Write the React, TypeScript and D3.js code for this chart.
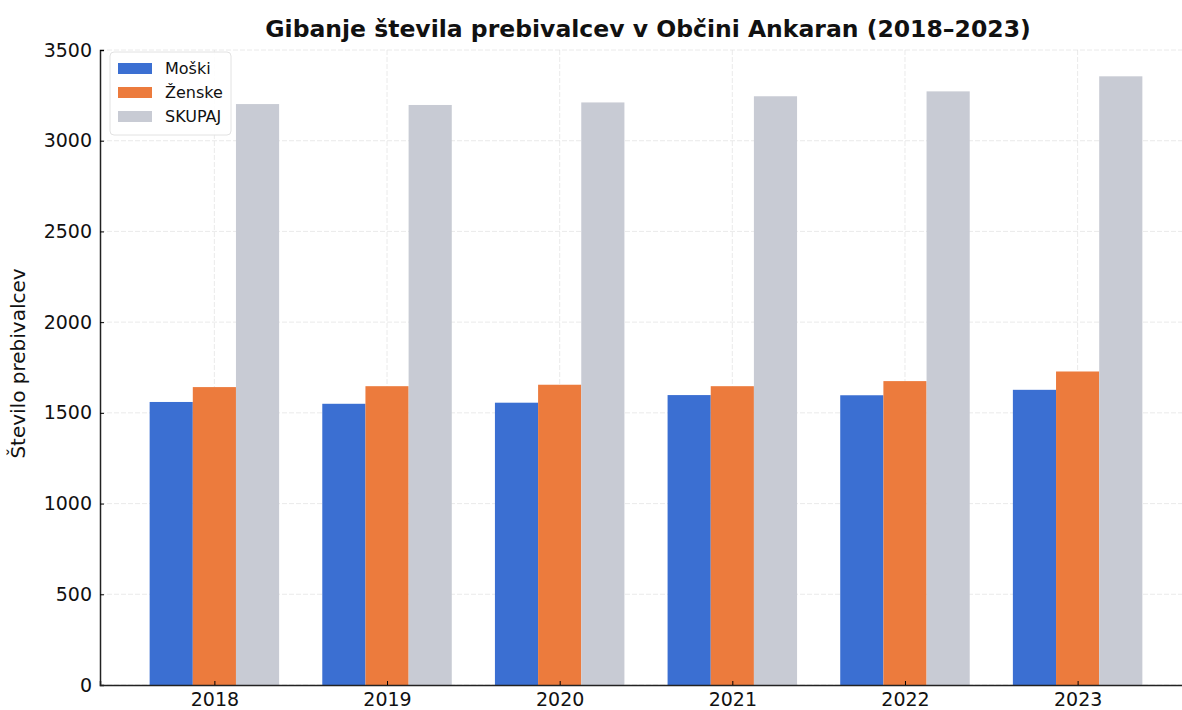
import React, { useEffect, useRef } from "react";
import * as d3 from "d3";

const years = ["2018", "2019", "2020", "2021", "2022", "2023"];
const moski = [1560, 1550, 1556, 1598, 1597, 1627];
const zenske = [1642, 1647, 1655, 1647, 1675, 1728];
const skupaj = [3202, 3197, 3211, 3245, 3272, 3355];
const seriesNames = ["Moški", "Ženske", "SKUPAJ"];
const seriesColors = ["#3b6fd2", "#ec7b3d", "#c8cbd4"];
const yTicks = [0, 500, 1000, 1500, 2000, 2500, 3000, 3500];

const width = 1182;
const height = 710;
const margin = { top: 50, right: -10, bottom: 25, left: 100 };

const App = () => {
  const svgRef = useRef(null);

  useEffect(() => {
    const svg = d3.select(svgRef.current);
    svg.selectAll("*").remove();

    const font = "DejaVu Sans, sans-serif";
    const barW = 0.25;

    // matplotlib-like linear x axis with 5% margins
    const x = d3
      .scaleLinear()
      .domain([-0.6625, years.length - 1 + 0.6625])
      .range([margin.left, width - margin.right]);
    const y = d3
      .scaleLinear()
      .domain([0, 3500])
      .range([height - margin.bottom, margin.top]);

    const g = svg.append("g");

    // grid
    g.selectAll(".hgrid")
      .data(yTicks)
      .enter()
      .append("line")
      .attr("x1", margin.left)
      .attr("x2", width)
      .attr("y1", (d) => y(d))
      .attr("y2", (d) => y(d))
      .attr("stroke", "#dedede")
      .attr("stroke-width", 1)
      .attr("stroke-dasharray", "5,2")
      .attr("opacity", 0.6);

    g.selectAll(".vgrid")
      .data(years)
      .enter()
      .append("line")
      .attr("x1", (_, i) => x(i))
      .attr("x2", (_, i) => x(i))
      .attr("y1", y(0))
      .attr("y2", y(3500))
      .attr("stroke", "#dedede")
      .attr("stroke-width", 1)
      .attr("stroke-dasharray", "5,2")
      .attr("opacity", 0.6);

    // bars
    const series = [moski, zenske, skupaj];
    series.forEach((vals, s) => {
      g.selectAll(".bar" + s)
        .data(vals)
        .enter()
        .append("rect")
        .attr("x", (_, i) => x(i + (s - 1) * barW - barW / 2))
        .attr("width", x(barW) - x(0))
        .attr("y", (d) => y(d))
        .attr("height", (d) => y(0) - y(d))
        .attr("fill", seriesColors[s]);
    });

    // axes
    const yAxis = d3
      .axisLeft(y)
      .tickValues(yTicks)
      .tickFormat(d3.format("d"))
      .tickSize(-4)
      .tickPadding(8);
    const ya = g
      .append("g")
      .attr("transform", `translate(${margin.left},0)`)
      .call(yAxis);
    ya.select(".domain").attr("stroke", "#222").attr("stroke-width", 1.5);
    ya.selectAll("text")
      .attr("font-family", font)
      .attr("font-size", 19)
      .attr("fill", "#111");

    const xAxis = d3
      .axisBottom(x)
      .tickValues(d3.range(years.length))
      .tickFormat((i) => years[i])
      .tickSize(-4)
      .tickPadding(8);
    const xa = g
      .append("g")
      .attr("transform", `translate(0,${y(0)})`)
      .call(xAxis);
    xa.select(".domain").attr("stroke", "#222").attr("stroke-width", 1.5);
    xa.selectAll("text")
      .attr("font-family", font)
      .attr("font-size", 19)
      .attr("fill", "#111");

    // y label
    svg
      .append("text")
      .attr("transform", `translate(25,${(y(0) + y(3500)) / 2 - 4}) rotate(-90)`)
      .attr("text-anchor", "middle")
      .attr("font-family", font)
      .attr("font-size", 20)
      .attr("fill", "#111")
      .text("Število prebivalcev");

    // title
    svg
      .append("text")
      .attr("x", 648)
      .attr("y", 37)
      .attr("text-anchor", "middle")
      .attr("font-family", font)
      .attr("font-weight", "bold")
      .attr("font-size", 23.5)
      .attr("fill", "#111")
      .text("Gibanje števila prebivalcev v Občini Ankaran (2018–2023)");

    // legend
    const lg = svg.append("g").attr("transform", "translate(110,52)");
    lg.append("rect")
      .attr("width", 121)
      .attr("height", 83)
      .attr("rx", 4)
      .attr("fill", "white")
      .attr("fill-opacity", 0.85)
      .attr("stroke", "#e2e2e2");
    seriesNames.forEach((name, i) => {
      lg.append("rect")
        .attr("x", 8)
        .attr("y", 11 + i * 24)
        .attr("width", 34)
        .attr("height", 11)
        .attr("fill", seriesColors[i]);
      lg.append("text")
        .attr("x", 55)
        .attr("y", 22 + i * 24)
        .attr("font-family", font)
        .attr("font-size", 16)
        .attr("fill", "#111")
        .text(name);
    });
  }, []);

  return (
    <>
      <style>{"body{margin:0}"}</style>
      <svg ref={svgRef} width={width} height={height} style={{ display: "block", background: "white" }}></svg>
    </>
  );
};

export default App;
